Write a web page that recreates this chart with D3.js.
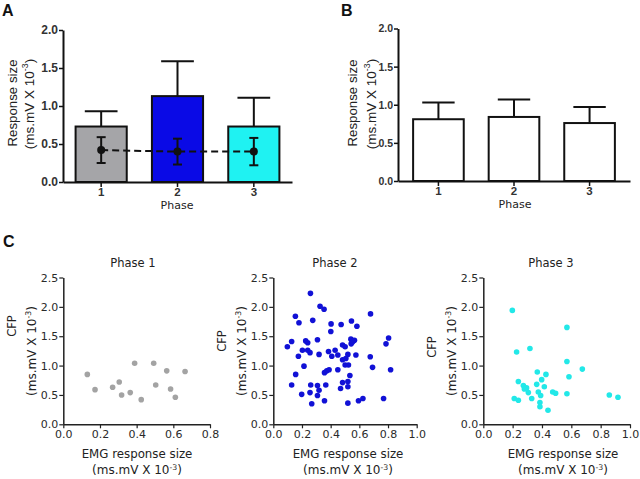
<!DOCTYPE html>
<html><head><meta charset="utf-8">
<script src="https://cdn.jsdelivr.net/npm/d3@7"></script>
<style>body{margin:0;background:#fff}svg{display:block}</style>
</head><body>
<script>
// ---------- data ----------
const phases = ["1", "2", "3"];
const barColors = ["#a5a5a8", "#0a0ae6", "#1ff2f2"];
const emgMean = [0.73, 1.13, 0.73];
const emgSem = [0.20, 0.46, 0.38];
const cfpMean = [0.42, 0.40, 0.40];
const cfpSem = [0.17, 0.17, 0.18];
const bMean = [0.81, 0.84, 0.76];
const bSem = [0.22, 0.23, 0.21];
const barTicks = [0, 0.5, 1.0, 1.5, 2.0];
const scatterYTicks = [0, 0.5, 1.0, 1.5, 2.0, 2.5];
const p1Ticks = [0, 0.2, 0.4, 0.6, 0.8];
const p23Ticks = [0, 0.2, 0.4, 0.6, 0.8, 1.0];

const phase1 = [[0.131,0.85],[0.173,0.59],[0.269,0.63],[0.305,0.72],[0.318,0.50],[0.365,0.54],[0.389,1.04],[0.425,0.42],[0.493,1.04],[0.504,0.67],[0.564,0.91],[0.585,0.60],[0.611,0.46],[0.664,0.90]];
const phase2 = [[0.259,2.23],[0.326,2.01],[0.354,1.96],[0.154,1.84],[0.179,1.73],[0.275,1.77],[0.403,1.71],[0.473,1.70],[0.545,1.76],[0.583,1.67],[0.401,1.58],[0.678,1.88],[0.128,1.41],[0.226,1.42],[0.240,1.39],[0.308,1.44],[0.804,1.47],[0.786,1.37],[0.541,1.45],[0.566,1.43],[0.098,1.32],[0.175,1.16],[0.203,1.26],[0.214,0.99],[0.240,1.26],[0.256,1.22],[0.319,1.19],[0.385,1.24],[0.408,1.16],[0.431,1.26],[0.450,1.18],[0.483,1.35],[0.501,1.32],[0.520,1.19],[0.483,1.10],[0.501,1.01],[0.524,1.01],[0.506,1.12],[0.543,1.37],[0.552,1.40],[0.576,1.18],[0.676,1.15],[0.692,0.97],[0.818,0.93],[0.156,0.85],[0.128,0.67],[0.198,0.51],[0.261,0.67],[0.256,0.54],[0.308,0.66],[0.319,0.58],[0.308,0.49],[0.268,0.35],[0.357,0.88],[0.373,0.91],[0.389,0.93],[0.450,0.93],[0.366,0.67],[0.357,0.40],[0.469,0.61],[0.483,0.71],[0.520,0.73],[0.520,0.64],[0.534,0.83],[0.520,0.36],[0.594,0.40],[0.625,0.44],[0.769,0.44]];
const phase3 = [[0.198,1.94],[0.570,1.65],[0.227,1.23],[0.318,1.29],[0.570,1.07],[0.675,0.94],[0.368,0.89],[0.427,0.85],[0.584,0.81],[0.239,0.73],[0.398,0.76],[0.273,0.66],[0.364,0.68],[0.295,0.62],[0.416,0.64],[0.280,0.60],[0.307,0.54],[0.375,0.55],[0.391,0.49],[0.330,0.44],[0.473,0.55],[0.493,0.53],[0.570,0.52],[0.211,0.44],[0.239,0.41],[0.386,0.37],[0.386,0.30],[0.441,0.24],[0.859,0.50],[0.918,0.46]];

// ---------- drawing ----------
const W = 640, H = 479;
const svg = d3.select("body").append("svg").attr("width", W).attr("height", H);
const axisFont = "'Liberation Sans', Arial, sans-serif";
const labelFont = "'DejaVu Sans', Verdana, sans-serif";

function panelLetter(t, x, y) {
  svg.append("text").attr("x", x).attr("y", y).text(t)
    .attr("font-family", axisFont).attr("font-weight", "bold").attr("font-size", 16).attr("fill", "#111");
}

function unitText(sel, size) {
  sel.append("tspan").text("(ms.mV X 10");
  sel.append("tspan").attr("font-size", size * 0.65).attr("dy", -4).text("-3");
  sel.append("tspan").attr("dy", 4).text(")");
}

function twoLineYLabel(x1, x2, y1, y2, line1, font, size1, size2) {
  svg.append("text").attr("transform", `translate(${x1},${y1}) rotate(-90)`)
    .attr("text-anchor", "middle").attr("dominant-baseline", "central")
    .attr("font-family", font).attr("font-size", size1).attr("fill", "#222").text(line1);
  const t = svg.append("text").attr("transform", `translate(${x2},${y2}) rotate(-90)`)
    .attr("text-anchor", "middle").attr("dominant-baseline", "central")
    .attr("font-family", font).attr("font-size", size2).attr("fill", "#222");
  unitText(t, size2);
}

function barPanel(opts) {
  const y = d3.scaleLinear().domain([0, 2]).range([opts.y0, opts.y1]);
  const x = d3.scaleBand().domain(phases).range([opts.xa, opts.xb]).paddingInner(0.33).paddingOuter(opts.po);
  const g = svg.append("g");
  g.selectAll("rect.bar").data(phases).join("rect")
    .attr("x", d => x(d)).attr("width", x.bandwidth())
    .attr("y", (d, i) => y(opts.mean[i])).attr("height", (d, i) => y(0) - y(opts.mean[i]))
    .attr("fill", (d, i) => opts.fill[i]).attr("stroke", "#111").attr("stroke-width", 2);
  const cx = d => x(d) + x.bandwidth() / 2;
  g.selectAll("line.ev").data(phases).join("line")
    .attr("x1", cx).attr("x2", cx)
    .attr("y1", (d, i) => y(opts.mean[i])).attr("y2", (d, i) => y(opts.mean[i] + opts.sem[i]))
    .attr("stroke", "#111").attr("stroke-width", 2);
  g.selectAll("line.ec").data(phases).join("line")
    .attr("x1", d => cx(d) - x.bandwidth() * 0.32).attr("x2", d => cx(d) + x.bandwidth() * 0.32)
    .attr("y1", (d, i) => y(opts.mean[i] + opts.sem[i])).attr("y2", (d, i) => y(opts.mean[i] + opts.sem[i]))
    .attr("stroke", "#111").attr("stroke-width", 2);
  if (opts.dots) {
    const line = d3.line().x(d => cx(d)).y((d, i) => y(opts.dots[i]));
    g.append("path").datum(phases).attr("d", line).attr("fill", "none")
      .attr("stroke", "#111").attr("stroke-width", 2).attr("stroke-dasharray", "7,4");
    g.selectAll("line.dv").data(phases).join("line")
      .attr("x1", cx).attr("x2", cx)
      .attr("y1", (d, i) => y(opts.dots[i] - opts.dotsSem[i])).attr("y2", (d, i) => y(opts.dots[i] + opts.dotsSem[i]))
      .attr("stroke", "#111").attr("stroke-width", 2);
    [-1, 1].forEach(s => {
      g.selectAll(null).data(phases).join("line")
        .attr("x1", d => cx(d) - 4.5).attr("x2", d => cx(d) + 4.5)
        .attr("y1", (d, i) => y(opts.dots[i] + s * opts.dotsSem[i])).attr("y2", (d, i) => y(opts.dots[i] + s * opts.dotsSem[i]))
        .attr("stroke", "#111").attr("stroke-width", 2);
    });
    g.selectAll("circle").data(phases).join("circle")
      .attr("cx", cx).attr("cy", (d, i) => y(opts.dots[i])).attr("r", 4).attr("fill", "#111");
  }
  const ya = svg.append("g").attr("transform", `translate(${opts.xa},0)`)
    .call(d3.axisLeft(y).tickValues(barTicks).tickFormat(d3.format(".1f")).tickSize(4).tickSizeOuter(0).tickPadding(1));
  const xa = svg.append("g").attr("transform", `translate(0,${opts.y0})`)
    .call(d3.axisBottom(x).tickSize(5).tickSizeOuter(0).tickPadding(1));
  [ya, xa].forEach(a => {
    a.select(".domain").attr("stroke", "#111").attr("stroke-width", 2);
    a.selectAll(".tick line").attr("stroke", "#111").attr("stroke-width", 1.5);
    a.selectAll("text").attr("font-family", axisFont).attr("font-weight", "bold").attr("fill", "#333");
  });
  ya.selectAll("text").attr("font-size", opts.tickFont);
  xa.selectAll("text").attr("font-size", 11.5);
  svg.append("text").attr("x", opts.phaseX).attr("y", opts.y0 + 27)
    .attr("text-anchor", "middle").attr("font-family", labelFont).attr("font-size", 11).attr("fill", "#222").text("Phase");
  twoLineYLabel(opts.xa - opts.l1, opts.xa - opts.l2, 103, 104, "Response size", axisFont, 13.3, 13.5);
}

barPanel({ xa: 63, xb: 292, y0: 182, y1: 30, po: 0.165, mean: emgMean, sem: emgSem, fill: barColors, dots: cfpMean, dotsSem: cfpSem, phaseX: 177, l1: 51, l2: 34, tickFont: 12 });
barPanel({ xa: 398, xb: 630, y0: 181, y1: 28.5, po: 0.2, mean: bMean, sem: bSem, fill: ["#fff", "#fff", "#fff"], phaseX: 515, l1: 46, l2: 27, tickFont: 10.5 });

function scatterPanel(opts) {
  const x = d3.scaleLinear().domain([0, opts.xmax]).range([opts.xa, opts.xb]);
  const y = d3.scaleLinear().domain([0, 2.5]).range([424.3, 277.5]);
  svg.append("g").selectAll("circle").data(opts.data).join("circle")
    .attr("cx", d => x(d[0])).attr("cy", d => y(d[1])).attr("r", 2.8).attr("fill", opts.color);
  const ya = svg.append("g").attr("transform", `translate(${opts.xa},0)`)
    .call(d3.axisLeft(y).tickValues(scatterYTicks).tickFormat(d3.format(".1f")).tickSize(4).tickSizeOuter(0).tickPadding(1));
  const xa = svg.append("g").attr("transform", `translate(0,424.3)`)
    .call(d3.axisBottom(x).tickValues(opts.ticks).tickFormat(d3.format(".1f")).tickSize(4).tickSizeOuter(0).tickPadding(2));
  [ya, xa].forEach(a => {
    a.select(".domain").attr("stroke", "#222").attr("stroke-width", 1.5);
    a.selectAll(".tick line").attr("stroke", "#222").attr("stroke-width", 1.2);
    a.selectAll("text").attr("font-family", labelFont).attr("font-size", 11).attr("fill", "#2a2a2a");
  });
  svg.append("text").attr("x", opts.titleX).attr("y", 267).attr("text-anchor", "middle")
    .attr("font-family", labelFont).attr("font-size", 11.5).attr("fill", "#222").text(opts.title);
  svg.append("text").attr("x", opts.labX).attr("y", 457.5).attr("text-anchor", "middle")
    .attr("font-family", labelFont).attr("font-size", 11.8).attr("fill", "#222").text("EMG response size");
  const t = svg.append("text").attr("x", opts.labX).attr("y", 473.5).attr("text-anchor", "middle")
    .attr("font-family", labelFont).attr("font-size", 12).attr("fill", "#222");
  unitText(t, 12);
  twoLineYLabel(opts.xa - 51, opts.xa - 31, opts.cfpY, 351, "CFP", labelFont, 11.5, 12);
}

scatterPanel({ xa: 63.3, xb: 210, xmax: 0.8, ticks: p1Ticks, data: phase1, color: "#a3a3a3", title: "Phase 1", titleX: 133, labX: 137, cfpY: 326 });
scatterPanel({ xa: 273.3, xb: 416.7, xmax: 1.0, ticks: p23Ticks, data: phase2, color: "#1111d6", title: "Phase 2", titleX: 335, labX: 348, cfpY: 341 });
scatterPanel({ xa: 483.3, xb: 630, xmax: 1.0, ticks: p23Ticks, data: phase3, color: "#22e8e8", title: "Phase 3", titleX: 551, labX: 563, cfpY: 347 });

panelLetter("A", 2, 16);
panelLetter("B", 341, 16);
panelLetter("C", 3, 247);
</script>
</body></html>
